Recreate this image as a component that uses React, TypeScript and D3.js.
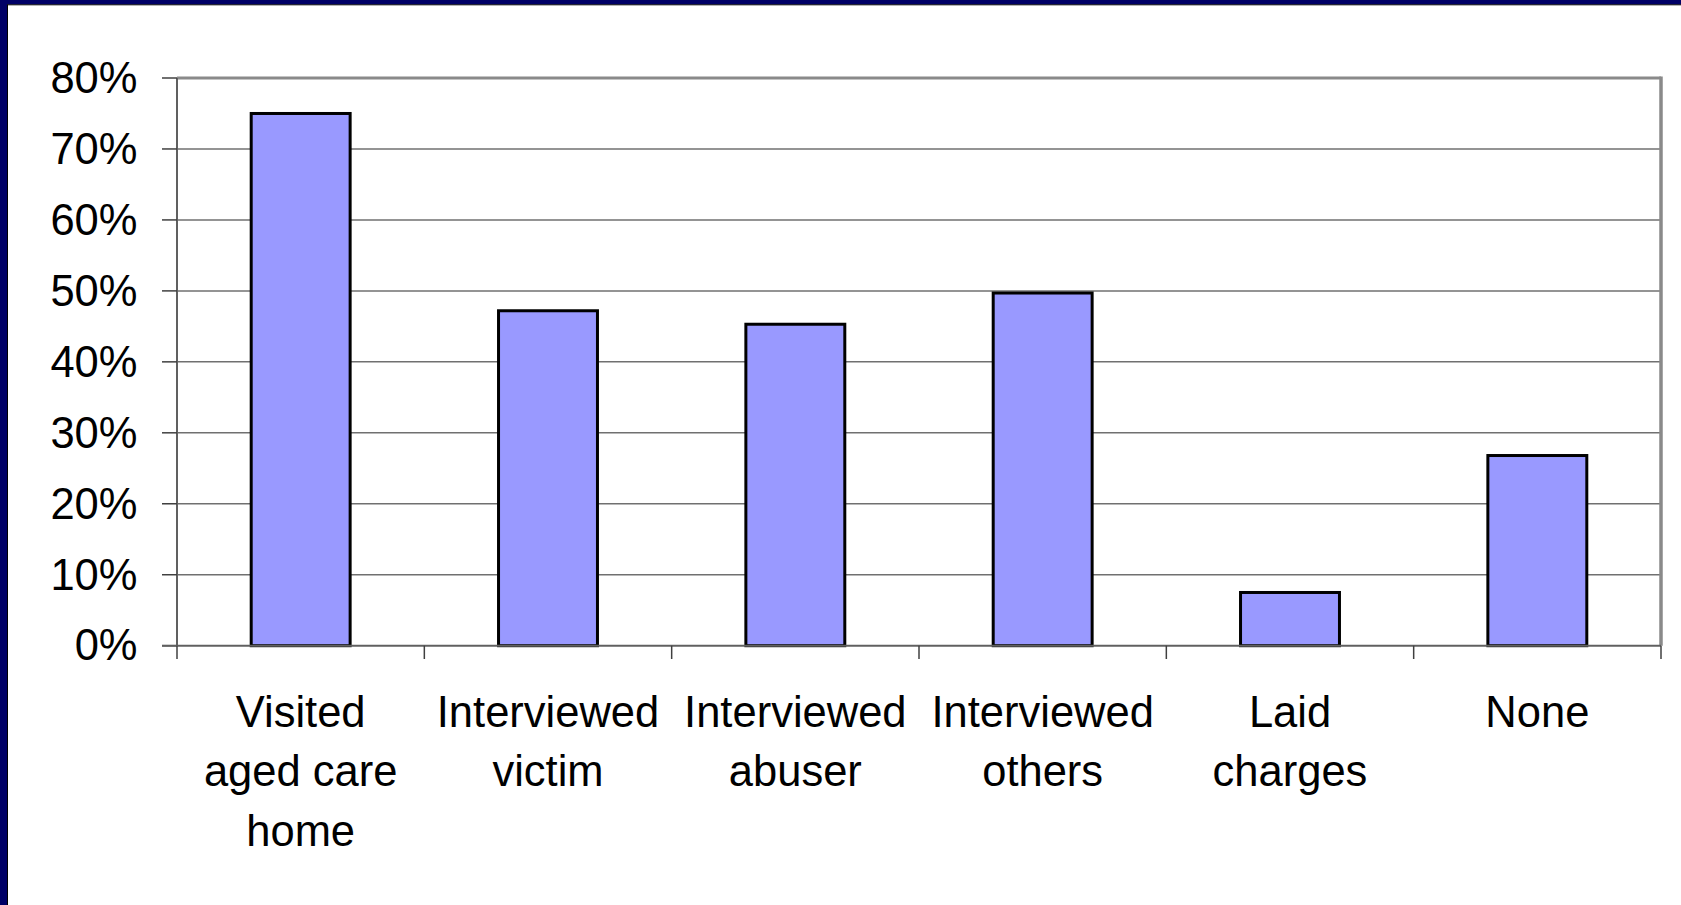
import React from "react";
import * as d3 from "d3";

const categories: string[][] = [
  ["Visited", "aged care", "home"],
  ["Interviewed", "victim"],
  ["Interviewed", "abuser"],
  ["Interviewed", "others"],
  ["Laid", "charges"],
  ["None"],
];
const values: number[] = [0.75, 0.472, 0.453, 0.497, 0.075, 0.268];
const yTicks: number[] = [0, 0.1, 0.2, 0.3, 0.4, 0.5, 0.6, 0.7, 0.8];

const W = 1681;
const H = 905;
const left = 177;
const right = 1661;
const top = 78;
const bottom = 645.7;
const FONT = "'Liberation Sans', Arial, sans-serif";
const FS = 43.5;

export default function App() {
  const x = d3
    .scaleBand<number>()
    .domain(values.map((_, i) => i))
    .range([left, right])
    .paddingInner(0)
    .paddingOuter(0);
  const y = d3.scaleLinear().domain([0, 0.8]).range([bottom, top]);
  const bw = x.bandwidth() * 0.4;
  const fmt = d3.format(".0%");

  return (
    <svg
      width={W}
      height={H}
      style={{ position: "absolute", left: 0, top: 0, display: "block" }}
      fontFamily={FONT}
    >
      <rect x={0} y={0} width={W} height={H} fill="#ffffff" />
      {/* navy frame (top and left) */}
      <rect x={0} y={0} width={W} height={4.5} fill="#000066" />
      <rect x={0} y={0} width={7} height={H} fill="#000066" />
      <line x1={7.5} y1={4.5} x2={7.5} y2={H} stroke="#000000" strokeWidth={1} />
      <line x1={7} y1={4.8} x2={W} y2={4.8} stroke="#000000" strokeWidth={1} />

      {/* gridlines */}
      {yTicks.slice(1, -1).map((t) => (
        <line
          key={t}
          x1={left}
          x2={right}
          y1={y(t)}
          y2={y(t)}
          stroke="#707070"
          strokeWidth={1.5}
        />
      ))}
      {/* plot border top & right */}
      <line x1={left} x2={right} y1={top} y2={top} stroke="#8a8a8a" strokeWidth={3} />
      <line x1={right} x2={right} y1={top - 1.5} y2={bottom} stroke="#8a8a8a" strokeWidth={3.5} />

      {/* bars */}
      {values.map((v, i) => {
        const cx = (x(i) as number) + x.bandwidth() / 2;
        return (
          <rect
            key={i}
            x={cx - bw / 2}
            y={y(v)}
            width={bw}
            height={bottom - y(v)}
            fill="#9999ff"
            stroke="#000000"
            strokeWidth={3}
          />
        );
      })}

      {/* y axis */}
      <line x1={left} x2={left} y1={top} y2={bottom} stroke="#606060" strokeWidth={2} />
      {yTicks.map((t) => (
        <g key={t}>
          <line x1={162} x2={left} y1={y(t)} y2={y(t)} stroke="#404040" strokeWidth={1.5} />
          <text
            x={137.5}
            y={y(t)}
            dy="0.34em"
            textAnchor="end"
            fontSize={FS}
            fill="#000000"
          >
            {fmt(t)}
          </text>
        </g>
      ))}

      {/* x axis */}
      <line x1={162} x2={right} y1={bottom} y2={bottom} stroke="#606060" strokeWidth={2} />
      {d3.range(values.length + 1).map((i) => {
        const xx = i < values.length ? (x(i) as number) : right;
        return (
          <line key={i} x1={xx} x2={xx} y1={bottom} y2={659} stroke="#404040" strokeWidth={1.5} />
        );
      })}
      {categories.map((lines, i) => {
        const cx = (x(i) as number) + x.bandwidth() / 2;
        return (
          <text key={i} x={cx} y={726.7} textAnchor="middle" fontSize={FS} fill="#000000">
            {lines.map((l, j) => (
              <tspan key={j} x={cx} dy={j === 0 ? 0 : 59.7}>
                {l}
              </tspan>
            ))}
          </text>
        );
      })}
    </svg>
  );
}
